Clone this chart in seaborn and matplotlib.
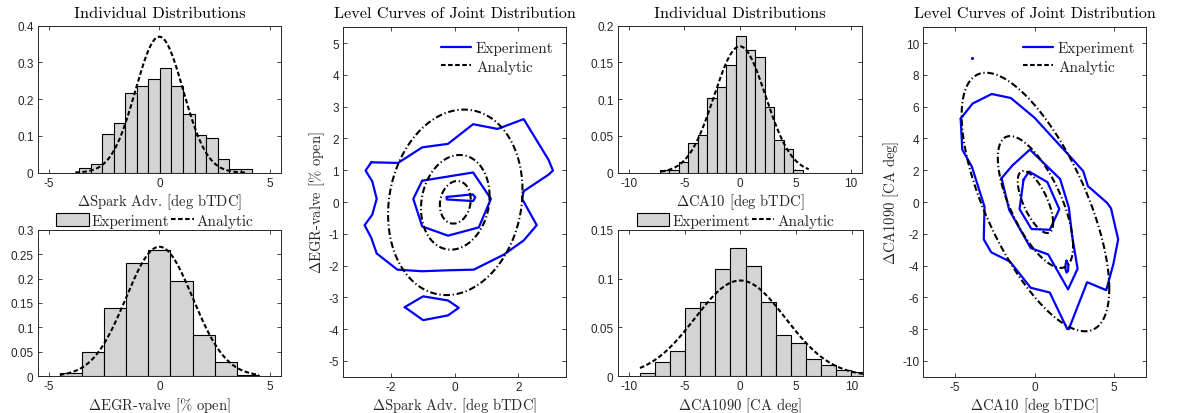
import numpy as np
import pandas as pd
import matplotlib
matplotlib.use("Agg")
import matplotlib.pyplot as plt
from matplotlib.patches import Patch
from matplotlib.lines import Line2D
from matplotlib.legend_handler import HandlerLine2D
from matplotlib.ticker import FuncFormatter
import seaborn as sns

sns.set_style("ticks")
plt.rcParams["font.family"] = ["Liberation Sans", "DejaVu Sans"]
plt.rcParams["mathtext.fontset"] = "cm"
plt.rcParams["axes.unicode_minus"] = False

SERIF = "cmr10"
BAR_FACE = "#d4d4d4"
AX_COLOR = "#262626"

# ---------------- marginal histograms (normalised frequency) ----------------
spark_bin_start, spark_bin_width = -3.63, 0.522
spark_freq = [0.012, 0.023, 0.106, 0.136, 0.216, 0.235, 0.255, 0.285,
              0.235, 0.160, 0.102, 0.095, 0.038, 0.011, 0.011]
spark_sigma = 1.078
spark_curve_range = (-3.8, 3.95)

egr_bin_start, egr_bin_width = -4.5, 1.0
egr_freq = [0.006, 0.049, 0.140, 0.232, 0.258, 0.195, 0.085, 0.030, 0.002]
egr_sigma = 1.505
egr_curve_range = (-4.5, 4.5)

ca10_bin_start, ca10_bin_width = -7.22, 0.859
ca10_freq = [0.004, 0.004, 0.014, 0.041, 0.051, 0.101, 0.117, 0.147,
             0.186, 0.167, 0.158, 0.090, 0.044, 0.032, 0.004]
ca10_sigma = 2.32
ca10_curve_range = (-7.1, 6.2)

ca1090_bin_start, ca1090_bin_width = -9.01, 1.356
ca1090_freq = [0.0034, 0.015, 0.026, 0.0695, 0.0757, 0.110, 0.1316, 0.113,
               0.0757, 0.042, 0.0338, 0.0177, 0.0116, 0.0061, 0.0048]
ca1090_sigma = 4.07
ca1090_curve_range = (-9.0, 11.5)

# ---------------- joint distributions ----------------
# analytic bivariate normal: (mean x, mean y, sd x, sd y, correlation)
spark_egr_params = (0.02, -0.01, 1.078, 1.49, 0.13)
spark_egr_levels = [0.45, 1.0, 1.96]          # Mahalanobis radii
ca_params = (0.05, 0.0, 2.32, 4.07, -0.67)
ca_levels = [0.48, 1.02, 2.0]

# experimental level curves (polylines)
spark_egr_exp = [
    [(-2.62, 1.25), (-1.78, 1.23), (-1.02, 1.72), (-0.21, 1.83), (0.58, 2.45),
     (1.35, 2.30), (2.17, 2.61), (2.95, 1.33), (3.09, 0.99), (2.95, 0.86),
     (2.17, 0.34), (2.12, 0.10), (2.58, -0.73), (2.17, -1.21), (1.54, -1.66),
     (0.60, -2.13), (-0.21, -2.15), (-1.02, -2.18), (-1.80, -2.13),
     (-2.45, -1.62), (-2.62, -1.13), (-2.83, -0.73), (-2.59, -0.40),
     (-2.45, 0.10), (-2.59, 0.65), (-2.80, 0.99), (-2.62, 1.25)],
    [(-1.02, 0.67), (0.58, 0.93), (1.14, 0.10), (0.76, -0.80), (-0.21, -1.06),
     (-1.02, -0.77), (-1.30, 0.10), (-1.02, 0.67)],
    [(-0.25, 0.16), (0.57, 0.24), (0.65, 0.15), (0.58, 0.03), (-0.25, 0.08),
     (-0.25, 0.16)],
    [(-1.57, -3.31), (-0.99, -2.97), (-0.21, -3.10), (0.13, -3.33),
     (-0.21, -3.57), (-0.99, -3.72), (-1.57, -3.31)],
]
ca_exp = [
    [(-4.65, 5.25), (-4.55, 3.30), (-3.95, 2.23), (-3.15, -0.30), (-3.20, -2.35),
     (-2.73, -3.17), (-1.55, -3.75), (-0.25, -5.40), (0.95, -5.70), (2.05, -8.00),
     (2.15, -8.00), (3.30, -5.05), (4.50, -5.55), (4.95, -3.90), (5.25, -2.35),
     (4.80, -0.40), (4.55, -0.05), (3.35, 1.00), (3.05, 1.95), (2.15, 2.95),
     (1.00, 4.20), (0.00, 5.30), (-1.50, 6.55), (-2.70, 6.80), (-3.90, 6.20),
     (-4.65, 5.25)],
    [(-2.08, 1.50), (-1.40, 2.30), (-0.30, 3.30), (1.60, 1.45), (2.15, -0.35),
     (2.35, -2.10), (2.70, -4.20), (2.10, -5.50), (0.85, -3.30), (-0.25, -2.90),
     (-1.60, -0.50), (-2.08, 1.50)],
    [(-0.70, 1.40), (-0.35, 1.92), (0.80, 1.25), (1.55, -0.45), (0.95, -1.75),
     (-0.20, -1.70), (-0.95, -0.45), (-0.70, 1.40)],
    [(2.00, -3.70), (2.12, -3.95), (2.10, -4.35), (2.00, -4.45), (1.93, -4.20),
     (1.95, -3.90), (2.00, -3.70)],
]
ca_exp_dot = (-3.95, 9.05)

W, H = 1177, 414
fig = plt.figure(figsize=(W / 100, H / 100), dpi=100)


def add_axes(left, right, top, bottom):
    return fig.add_axes([left / W, 1 - bottom / H, (right - left) / W, (bottom - top) / H])


fmt = FuncFormatter(lambda v, p: f"{v:g}")


def style_axes(ax):
    for s in ax.spines.values():
        s.set_visible(True)
        s.set_color(AX_COLOR)
        s.set_linewidth(0.7)
    ax.tick_params(direction="in", top=True, right=True, length=3, width=0.6,
                   color=AX_COLOR, labelcolor=AX_COLOR, labelsize=8.5, pad=3)
    ax.xaxis.set_major_formatter(fmt)
    ax.yaxis.set_major_formatter(fmt)


class ShortLineHandler(HandlerLine2D):
    """Legend line drawn shorter than the handle box, hugging its right side."""

    def __init__(self, frac=0.7, **kw):
        super().__init__(**kw)
        self.frac = frac

    def create_artists(self, legend, orig_handle, xdescent, ydescent, width, height,
                       fontsize, trans):
        cut = width * (1 - self.frac)
        return super().create_artists(legend, orig_handle, xdescent - cut, ydescent,
                                      width - cut, height, fontsize, trans)


HIST_DASH = (0, (2.2, 1.2))
JOINT_DASH = (0, (3.2, 1.3, 0.6, 1.3))


def hist_panel(ax, start, width, freq, sigma, crange, xlim, ylim, xticks, yticks, xlabel):
    n = len(freq)
    edges = start + width * np.arange(n + 1)
    df = pd.DataFrame({"center": (edges[:-1] + edges[1:]) / 2, "freq": freq})
    sns.histplot(data=df, x="center", weights="freq", bins=edges.tolist(), ax=ax,
                 color=BAR_FACE, edgecolor="black", linewidth=0.8, alpha=1, stat="count")
    xs = np.linspace(crange[0], crange[1], 300)
    pdf = np.exp(-0.5 * (xs / sigma) ** 2) / (sigma * np.sqrt(2 * np.pi))
    sns.lineplot(x=xs, y=pdf, ax=ax, color="black", linewidth=1.5, linestyle=HIST_DASH)
    ax.set_xlim(*xlim)
    ax.set_ylim(*ylim)
    ax.set_xticks(xticks)
    ax.set_yticks(yticks)
    ax.set_ylabel("")
    ax.set_xlabel(xlabel, fontfamily=SERIF, fontsize=10.5, color=AX_COLOR, labelpad=2)
    style_axes(ax)


def ellipse(params, d):
    mx, my, sx, sy, rho = params
    t = np.linspace(0, 2 * np.pi, 361)
    x = mx + d * sx * np.cos(t)
    y = my + d * sy * (rho * np.cos(t) + np.sqrt(1 - rho ** 2) * np.sin(t))
    return x, y


def joint_panel(ax, exp_curves, params, levels, xlim, ylim, xticks, yticks, xlabel, ylabel,
                legend_x):
    for curve in exp_curves:
        df = pd.DataFrame(curve, columns=["x", "y"])
        sns.lineplot(data=df, x="x", y="y", ax=ax, sort=False, estimator=None,
                     color="#0000ff", linewidth=1.6)
    for d in levels:
        ex, ey = ellipse(params, d)
        sns.lineplot(x=ex, y=ey, ax=ax, sort=False, estimator=None, color="black",
                     linewidth=1.5, linestyle=JOINT_DASH)
    ax.set_xlim(*xlim)
    ax.set_ylim(*ylim)
    ax.set_xticks(xticks)
    ax.set_yticks(yticks)
    ax.set_xlabel(xlabel, fontfamily=SERIF, fontsize=10.5, color=AX_COLOR, labelpad=2)
    ax.set_ylabel(ylabel, fontfamily=SERIF, fontsize=10.5, color=AX_COLOR, labelpad=1)
    ax.set_title("Level Curves of Joint Distribution", fontfamily=SERIF, fontsize=11.6,
                 color="black", pad=7.5)
    style_axes(ax)
    handles = [Line2D([], [], color="#0000ff", linewidth=1.6),
               Line2D([], [], color="black", linewidth=1.5, linestyle=(0, (2.2, 1.2)))]
    ax.legend(handles, ["Experiment", "Analytic"], loc="upper left",
              bbox_to_anchor=(legend_x, 0.982), frameon=False, borderpad=0,
              handlelength=2.0, handletextpad=0.3, labelspacing=0.3,
              prop={"family": SERIF, "size": 11})


# left block: spark advance / EGR valve
ax1 = add_axes(37.7, 281, 26.7, 173.7)
hist_panel(ax1, spark_bin_start, spark_bin_width, spark_freq, spark_sigma,
           spark_curve_range, (-5.5, 5.5), (0, 0.4), [-5, 0, 5],
           [0, 0.1, 0.2, 0.3, 0.4], r"$\Delta$Spark Adv. [deg bTDC]")
ax1.set_title("Individual Distributions", fontfamily=SERIF, fontsize=11.8, color="black",
              pad=6.5)

ax2 = add_axes(37.7, 281, 230.7, 377.3)
hist_panel(ax2, egr_bin_start, egr_bin_width, egr_freq, egr_sigma, egr_curve_range,
           (-5.5, 5.5), (0, 0.3), [-5, 0, 5], [0, 0.05, 0.1, 0.15, 0.2, 0.25, 0.3],
           r"$\Delta$EGR-valve [% open]")

ax3 = add_axes(343.3, 566, 28.3, 377.7)
joint_panel(ax3, spark_egr_exp, spark_egr_params, spark_egr_levels, (-3.5, 3.5),
            (-5.5, 5.5), [-2, 0, 2], list(range(-5, 6)),
            r"$\Delta$Spark Adv. [deg bTDC]", r"$\Delta$EGR-valve [% open]", 0.404)

# right block: CA10 / CA1090
ax4 = add_axes(617.7, 862, 26.7, 173.7)
hist_panel(ax4, ca10_bin_start, ca10_bin_width, ca10_freq, ca10_sigma, ca10_curve_range,
           (-11, 11), (0, 0.2), [-10, -5, 0, 5, 10], [0, 0.05, 0.1, 0.15, 0.2],
           r"$\Delta$CA10 [deg bTDC]")
ax4.set_title("Individual Distributions", fontfamily=SERIF, fontsize=11.8, color="black",
              pad=6.5)

ax5 = add_axes(617.7, 862.7, 230.7, 377.3)
hist_panel(ax5, ca1090_bin_start, ca1090_bin_width, ca1090_freq, ca1090_sigma,
           ca1090_curve_range, (-11, 11), (0, 0.15), [-10, -5, 0, 5, 10],
           [0, 0.05, 0.1, 0.15], r"$\Delta$CA1090 [CA deg]")

ax6 = add_axes(923.3, 1146, 28.3, 377.7)
joint_panel(ax6, ca_exp, ca_params, ca_levels, (-7, 7), (-11, 11), [-5, 0, 5],
            list(range(-10, 11, 2)), r"$\Delta$CA10 [deg bTDC]", r"$\Delta$CA1090 [CA deg]",
            0.413)
sns.scatterplot(x=[ca_exp_dot[0]], y=[ca_exp_dot[1]], ax=ax6, color="#0000ff",
                s=5, linewidth=0)

# shared legends between stacked histograms
hist_line = Line2D([], [], color="black", linewidth=1.5, linestyle=HIST_DASH)
hist_handles = [Patch(facecolor=BAR_FACE, edgecolor="black", linewidth=0.8), hist_line]
for cx in (155.0, 735.5):
    fig.legend(hist_handles, ["Experiment", "Analytic"], loc="center",
               bbox_to_anchor=(cx / W, 1 - 221.7 / H), ncol=2, frameon=False,
               borderpad=0, handlelength=2.1, handleheight=0.95, handletextpad=0.2,
               columnspacing=-0.5, prop={"family": SERIF, "size": 11},
               handler_map={hist_line: ShortLineHandler(frac=0.7)})

fig.savefig("out.png", dpi=100)
